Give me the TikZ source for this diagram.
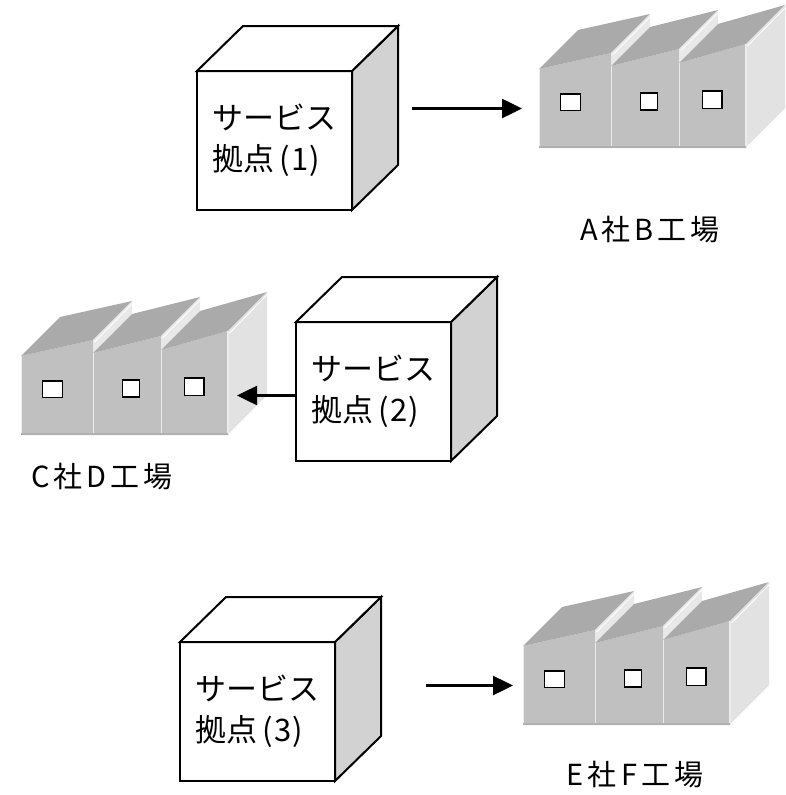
\documentclass[tikz,border=0pt]{standalone}
\usepackage{fontspec}
\usetikzlibrary{arrows.meta,calc}
\newfontfamily\jpfont{Noto Sans CJK JP}
\newfontfamily\jplabelfont[LetterSpace=14]{Noto Sans CJK JP}

\definecolor{cubeside}{RGB}{210,210,210}
\definecolor{plantfront}{RGB}{192,192,192}
\definecolor{plantroof}{RGB}{170,170,170}
\definecolor{plantside}{RGB}{226,226,226}
\definecolor{plantgable}{RGB}{232,232,232}
\definecolor{plantbase}{RGB}{176,176,176}
\definecolor{plantedge}{RGB}{236,236,236}

\tikzset{
  cubefront/.style={draw=black, fill=white, line width=2pt, line join=miter,
    minimum width=155pt, minimum height=139pt, inner sep=0pt, outer sep=0pt},
  cubeface/.style={draw=black, line width=2pt, line join=miter},
  cubetext/.style={font=\jpfont\fontsize{31}{41}\selectfont, align=left, inner sep=0pt},
  plantlabel/.style={font=\jplabelfont\fontsize{29}{34}\selectfont, inner sep=0pt},
  plantwin/.style={draw=black, fill=white, line width=1.8pt},
  flow/.style={line width=2.5pt, -{Triangle[length=20pt,width=19pt]}}
}

% second text line of a service point
\newcommand\pointno[1]{拠点\kern5pt(\kern1.5pt#1\kern1.5pt)}

% cube: name, front top-left corner
\newcommand\drawcube[3]{%
  \node[cubefront, anchor=north west] (#1) at (#2,#3) {};
  \filldraw[cubeface, fill=cubeside] (#1.north east) -- ++(46,-45) -- ++(0,139)
     -- (#1.south east) -- cycle;
  \filldraw[cubeface, fill=white] (#1.north west) -- ++(46,-45) -- ++(155,0)
     -- (#1.north east) -- cycle;
}

% plant with three sawtooth halls: name, bottom-left corner of the front
\newcommand\drawplant[3]{%
  \begin{scope}[shift={(#2,#3)}]
    % hall 1
    \fill[plantfront] (0,0) -- (0,-79) -- (72,-95) -- (72,0) -- cycle;
    \fill[plantroof] (0,-79) -- (72,-95) -- (111,-134) -- (39,-118) -- cycle;
    \fill[plantgable] (72,-95) -- (111,-134) -- (111,-121) -- (72,-82) -- cycle;
    \draw[white, line width=0.8pt] (73.5,-93) -- (111,-131);
    % hall 2
    \fill[plantfront] (72,0) -- (72,-82) -- (140,-99) -- (140,0) -- cycle;
    \fill[plantroof] (72,-82) -- (140,-99) -- (179,-138) -- (111,-121) -- cycle;
    \fill[plantgable] (140,-99) -- (179,-138) -- (179,-124) -- (140,-85) -- cycle;
    \draw[white, line width=0.8pt] (141.5,-97) -- (179,-135);
    % hall 3
    \fill[plantfront] (140,0) -- (140,-85) -- (207,-104) -- (207,0) -- cycle;
    \fill[plantroof] (140,-85) -- (207,-104) -- (246,-143) -- (179,-124) -- cycle;
    \fill[plantside] (207,-104) -- (246,-143) -- (246,-39) -- (207,0) -- cycle;
    \draw[white, line width=0.8pt] (208.5,-102) -- (246,-140);
    \draw[white, line width=1pt] (208,-1) -- (246,-39);
    % hall edges and base
    \draw[plantedge, line width=1.6pt] (72.5,-1) -- (72.5,-82) (140.5,-1) -- (140.5,-85)
      (207,-1) -- (207,-104);
    \draw[plantbase, line width=2pt] (0,-1) -- (207,-1);
    \draw[plantedge, line width=1pt] (0.5,-2) -- (0.5,-79);
    % windows
    \draw[plantwin] (21.5,-54) rectangle (41.5,-37.5);
    \draw[plantwin] (101.5,-55) rectangle (118.5,-38);
    \draw[plantwin] (163.5,-57) rectangle (183,-39.5);
  \end{scope}
  \node[minimum width=207pt, minimum height=79pt, inner sep=0pt, outer sep=0pt,
        anchor=south west] (#1) at (#2,#3) {};
}

\begin{document}
\begin{tikzpicture}[x=1pt, y=-1pt]
  \useasboundingbox (0,0) rectangle (785,795);
  \fill[white] (0,0) rectangle (785,795);

  % service points
  \drawcube{c1}{197}{71}
  \drawcube{c2}{296}{322}
  \drawcube{c3}{180}{642}
  \node[cubetext, anchor=west] (t1) at ([xshift=15pt]c1.west) {サービス\\\pointno{1}};
  \node[cubetext, anchor=west] (t2) at ([xshift=15pt]c2.west) {サービス\\\pointno{2}};
  \node[cubetext, anchor=west] (t3) at ([xshift=15pt]c3.west) {サービス\\\pointno{3}};

  % plants
  \drawplant{f1}{539}{148}
  \drawplant{f2}{21}{435}
  \drawplant{f3}{523}{725}
  \node[plantlabel] (l1) at (650,230) {A社B工場};
  \node[plantlabel] (l2) at (102,477) {C社D工場};
  \node[plantlabel] (l3) at (635,775) {E社F工場};

  % flows
  \draw[flow] ([xshift=60pt]c1.east |- f1.west) -- ([xshift=-17pt]f1.west);
  \draw[flow] (c2.west |- f2.east) -- ([xshift=9pt]f2.east);
  \draw[flow] ([xshift=91pt]c3.east |- f3.west) -- ([xshift=-10pt]f3.west);
\end{tikzpicture}
\end{document}
